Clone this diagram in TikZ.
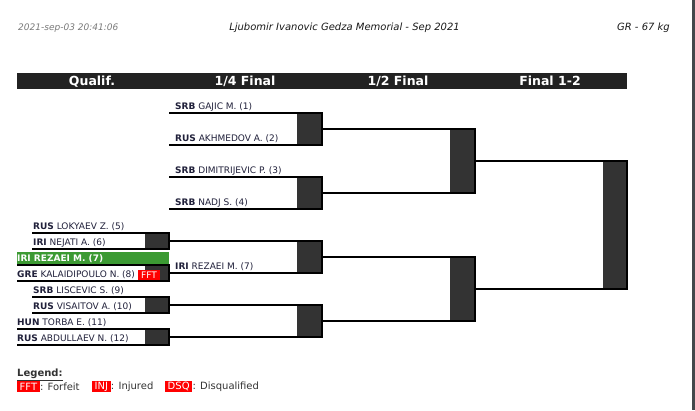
\documentclass[tikz,border=0pt]{standalone}
\usepackage{fontspec}
\setmainfont{DejaVu Sans}
\definecolor{barbg}{HTML}{222222}
\definecolor{boxbg}{HTML}{333333}
\definecolor{nametx}{HTML}{20203A}
\definecolor{datetx}{HTML}{7A7A7A}
\definecolor{winbg}{HTML}{3C9A33}
\definecolor{redbg}{HTML}{FF0000}
\definecolor{edgebg}{HTML}{44484C}
\definecolor{legtx}{HTML}{333333}
\tikzset{
  bline/.style={line width=1.9pt, draw=black, line join=miter},
  boxfill/.style={fill=boxbg},
  nm/.style={anchor=base west, inner sep=0pt, text=nametx, font=\fontsize{9}{10}\selectfont},
  hdr/.style={anchor=base, inner sep=0pt, text=white, font=\fontsize{12.5}{14}\selectfont\bfseries},
  toptx/.style={inner sep=0pt, font=\fontsize{10}{11}\selectfont\itshape},
  redtag/.style={fill=redbg, text=white, inner sep=0pt, font=\fontsize{9}{10}\selectfont},
  legtag/.style={fill=redbg, text=white, inner sep=0pt, font=\fontsize{10}{11}\selectfont},
  legnm/.style={anchor=west, inner sep=0pt, text=legtx, font=\fontsize{10}{11}\selectfont},
}
% \bmatch{name}{(left top)}{(left bottom)}{xright}{ytop}{ybottom}{boxwidth}
\newcommand{\bmatch}[7]{%
  \fill[boxfill] (#4-#7,#5) rectangle (#4,#6);
  \draw[bline] #2 -- (#4,#5) -- (#4,#6) -- #3;
  \coordinate (#1) at (#4,{(#5+#6)/2});
}
\begin{document}
\begin{tikzpicture}[x=1pt,y=-1pt]
\useasboundingbox (0,0) rectangle (695,410);
\fill[white] (0,0) rectangle (695,410);
\fill[edgebg] (692,0) rectangle (695,410);

% top texts
\node[toptx, anchor=base west, text=datetx, font=\fontsize{9}{10}\selectfont\itshape] (date) at (18,30.5) {2021-sep-03 20:41:06};
\node[toptx, anchor=base, text=black!90] (title) at (344.5,30.5) {Ljubomir Ivanovic Gedza Memorial - Sep 2021};
\node[toptx, anchor=base east, text=black!90] (cat) at (670,30.5) {GR - 67 kg};

% header bar
\fill[barbg] (17,73) rectangle (627,89);
\node[hdr] (h1) at (92,85) {Qualif.};
\node[hdr] (h2) at (245,85) {1/4 Final};
\node[hdr] (h3) at (398,85) {1/2 Final};
\node[hdr] (h4) at (550,85) {Final 1-2};

% winner highlight
\fill[winbg] (17,252) rectangle (169,265);
\node[nm, text=white, font=\fontsize{9}{10}\selectfont\bfseries] (n7) at (17,261) {IRI REZAEI M. (7)};

% qualification matches
\bmatch{q56}{(32,233)}{(32,249)}{169}{233}{249}{24}
\bmatch{q78}{(17,265)}{(17,281)}{169}{265}{281}{24}
\bmatch{q910}{(32,297)}{(32,313)}{169}{297}{313}{24}
\bmatch{q1112}{(17,329)}{(17,345)}{169}{329}{345}{24}
\node[redtag, minimum width=22pt, minimum height=10.5pt] (fft8) at (149,275.2) {FFT};

% quarter finals
\bmatch{f1}{(169,113)}{(169,145)}{322}{113}{145}{25}
\bmatch{f2}{(169,177)}{(169,209)}{322}{177}{209}{25}
\bmatch{f3}{(q56)}{(q78)}{322}{241}{273}{25}
\bmatch{f4}{(q910)}{(q1112)}{322}{305}{337}{25}

% semi finals
\bmatch{s1}{(f1)}{(f2)}{475}{129}{193}{25}
\bmatch{s2}{(f3)}{(f4)}{475}{257}{321}{25}

% final
\bmatch{fin}{(s1)}{(s2)}{627}{161}{289}{24}

% names qualif
\node[nm] (n5) at (33,229) {\textbf{RUS} LOKYAEV Z. (5)};
\node[nm] (n6) at (33,245) {\textbf{IRI} NEJATI A. (6)};
\node[nm] (n8) at (17,277.5) {\textbf{GRE} KALAIDIPOULO N. (8)};
\node[nm] (n9) at (33,293) {\textbf{SRB} LISCEVIC S. (9)};
\node[nm] (n10) at (33,309) {\textbf{RUS} VISAITOV A. (10)};
\node[nm] (n11) at (17,325) {\textbf{HUN} TORBA E. (11)};
\node[nm] (n12) at (17,341) {\textbf{RUS} ABDULLAEV N. (12)};

% names quarter finals
\node[nm] (m1) at (175,109.5) {\textbf{SRB} GAJIC M. (1)};
\node[nm] (m2) at (175,141.5) {\textbf{RUS} AKHMEDOV A. (2)};
\node[nm] (m3) at (175,173.5) {\textbf{SRB} DIMITRIJEVIC P. (3)};
\node[nm] (m4) at (175,205.5) {\textbf{SRB} NADJ S. (4)};
\node[nm] (m7) at (175,269.5) {\textbf{IRI} REZAEI M. (7)};

% legend
\node[legnm, anchor=base west, font=\fontsize{10}{11}\selectfont\bfseries] (leg) at (17,376.5) {\underline{Legend:}};
\node[legtag, anchor=west, minimum height=11.5pt, inner xsep=2.5pt] (lf) at (17,386.5) {FFT};
\node[legnm] (lft) at (lf.east) {: Forfeit};
\node[legtag, anchor=west, minimum height=11.5pt, inner xsep=2.5pt] (li) at (92,386.5) {INJ};
\node[legnm] (lit) at (li.east) {: Injured};
\node[legtag, anchor=west, minimum height=11.5pt, inner xsep=2.5pt] (ld) at (165,386.5) {DSQ};
\node[legnm] (ldt) at (ld.east) {: Disqualified};
\end{tikzpicture}
\end{document}
